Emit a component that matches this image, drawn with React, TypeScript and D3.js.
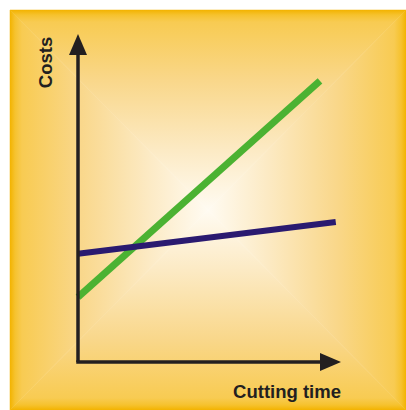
import React from "react";
import * as d3 from "d3";

const W = 406;
const H = 410;

// Data (arbitrary units)
const seriesNames = ["Tool costs", "Machine costs"];
const greenX = [0, 92];
const greenY = [19.8, 85.7];
const navyX = [0, 98];
const navyY = [33, 42.7];
const xLabel = "Cutting time";
const yLabel = "Costs";

const panel = { x0: 10, y0: 10, x1: 406, y1: 410 };
const cx = 208;
const cy = 210;

const stops = [
  { o: 0, c: "#F3B300" },
  { o: 0.025, c: "#F6C22E" },
  { o: 0.06, c: "#F8CB52" },
  { o: 0.35, c: "#F9D78A" },
  { o: 0.7, c: "#FCEAC4" },
  { o: 1, c: "#FFFBF2" },
];

export default function App() {
  const x = d3.scaleLinear().domain([0, 100]).range([78, 341]);
  const y = d3.scaleLinear().domain([0, 100]).range([362, 34]);
  const line = d3
    .line<[number, number]>()
    .x((d) => x(d[0]))
    .y((d) => y(d[1]));

  const green: [number, number][] = greenX.map((v, i) => [v, greenY[i]]);
  const navy: [number, number][] = navyX.map((v, i) => [v, navyY[i]]);

  const ax0 = x(0);
  const ay0 = y(0);
  const xTip = x(100);
  const yTip = y(100);
  const head = 21;
  const half = 9;

  const grads = [
    { id: "gTop", x1: 0, y1: panel.y0, x2: 0, y2: cy, pts: `${panel.x0},${panel.y0} ${panel.x1},${panel.y0} ${cx},${cy}` },
    { id: "gBot", x1: 0, y1: panel.y1, x2: 0, y2: cy, pts: `${panel.x0},${panel.y1} ${panel.x1},${panel.y1} ${cx},${cy}` },
    { id: "gLeft", x1: panel.x0, y1: 0, x2: cx, y2: 0, pts: `${panel.x0},${panel.y0} ${panel.x0},${panel.y1} ${cx},${cy}` },
    { id: "gRight", x1: panel.x1, y1: 0, x2: cx, y2: 0, pts: `${panel.x1},${panel.y0} ${panel.x1},${panel.y1} ${cx},${cy}` },
  ];

  return (
    <svg
      width={W}
      height={H}
      style={{ position: "absolute", left: 0, top: 0 }}
      fontFamily="'Liberation Sans', Arial, sans-serif"
    >
      <defs>
        {grads.map((g) => (
          <linearGradient key={g.id} id={g.id} gradientUnits="userSpaceOnUse" x1={g.x1} y1={g.y1} x2={g.x2} y2={g.y2}>
            {stops.map((s) => (
              <stop key={s.o} offset={s.o} stopColor={s.c} />
            ))}
          </linearGradient>
        ))}
      </defs>
      <rect x={0} y={0} width={W} height={H} fill="#ffffff" />
      {grads.map((g) => (
        <polygon key={g.id} points={g.pts} fill={`url(#${g.id})`} stroke={`url(#${g.id})`} strokeWidth={0.5} />
      ))}

      {/* series */}
      <path d={line(green) || ""} stroke="#4BB232" strokeWidth={7} fill="none" strokeLinecap="butt" />
      <path d={line(navy) || ""} stroke="#2A1A70" strokeWidth={6} fill="none" strokeLinecap="butt" />

      {/* axes */}
      <line x1={ax0} y1={ay0} x2={ax0} y2={yTip + head - 1} stroke="#231F20" strokeWidth={3.5} />
      <line x1={ax0 - 1.75} y1={ay0} x2={xTip - head + 1} y2={ay0} stroke="#231F20" strokeWidth={3.5} />
      <polygon points={`${ax0},${yTip} ${ax0 - half},${yTip + head} ${ax0 + half},${yTip + head}`} fill="#231F20" />
      <polygon points={`${xTip},${ay0} ${xTip - head},${ay0 - half} ${xTip - head},${ay0 + half}`} fill="#231F20" />

      {/* labels */}
      <text x={xTip} y={398} textAnchor="end" fontSize={18.5} fontWeight="bold" fill="#231F20">
        {xLabel}
      </text>
      <text
        transform={`translate(52,${(37 + 88) / 2}) rotate(-90)`}
        textAnchor="middle"
        fontSize={18.5}
        fontWeight="bold"
        fill="#231F20"
      >
        {yLabel}
      </text>
      <title>{seriesNames.join(", ")}</title>
    </svg>
  );
}
